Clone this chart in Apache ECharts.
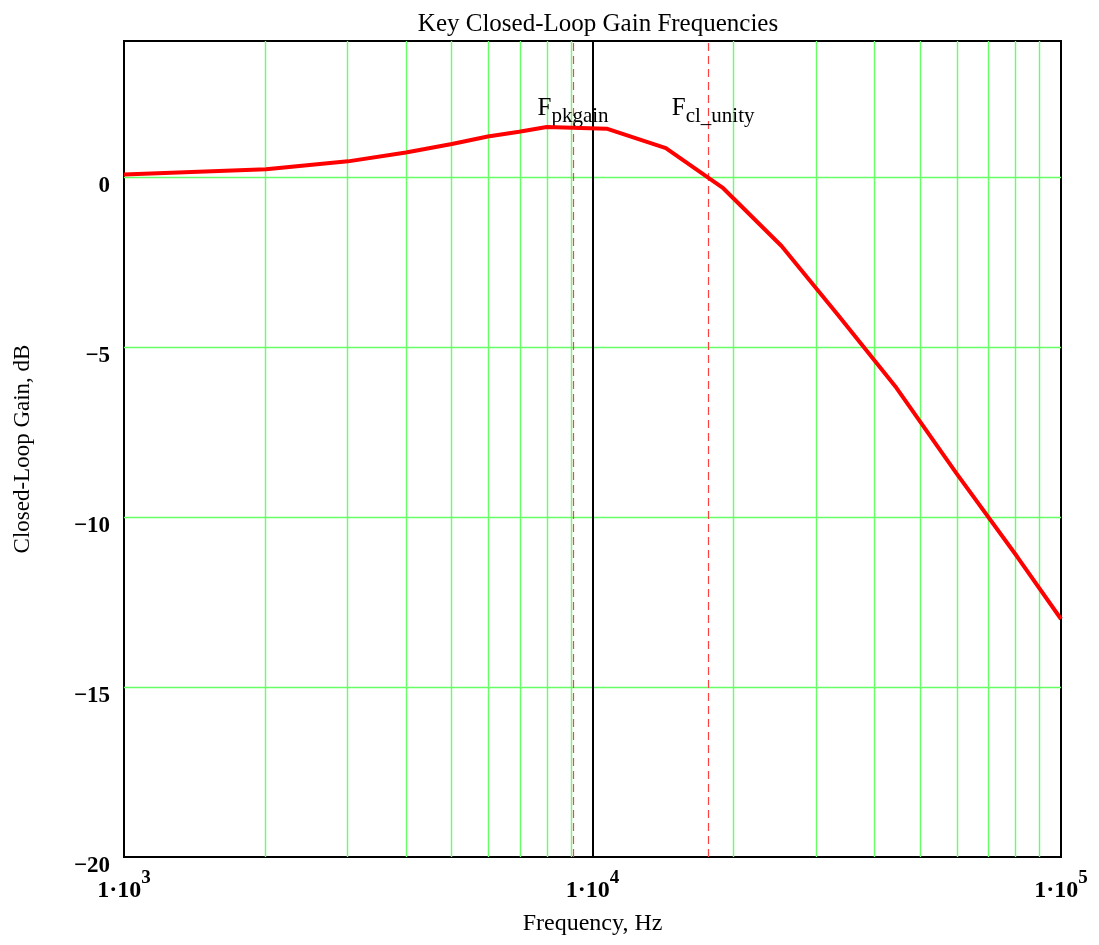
<!DOCTYPE html>
<html>
<head>
<meta charset="utf-8">
<title>Key Closed-Loop Gain Frequencies</title>
<script src="https://cdn.jsdelivr.net/npm/echarts@6/dist/echarts.min.js"></script>
<style>
  html, body { margin: 0; padding: 0; background: #ffffff; }
  #chart { width: 1099px; height: 945px; }
</style>
</head>
<body>
<div id="chart"></div>
<script>
// Closed-loop gain response (Hz, dB)
const freqHz = [1000, 2010, 3006, 3998, 5010, 5977, 6972, 7985, 10720, 14340, 19010, 25320, 33420, 44530, 59770, 80650, 100000];
const gainDb = [0.07, 0.23, 0.46, 0.72, 0.97, 1.19, 1.33, 1.47, 1.42, 0.85, -0.33, -2.03, -4.06, -6.20, -8.71, -11.17, -13.0];

// Key frequencies marked on the plot
const fPkGain = 9090;     // peak closed-loop gain
const fClUnity = 17650;   // closed-loop unity-gain crossing
const fRef = 10000;       // reference marker

// Axis ranges and tick labels
const yTicks = [-20, -15, -10, -5, 0];
const decadeStarts = [1000, 10000];
const gridMultipliers = [2, 3, 4, 5, 6, 7, 8, 9];

const minorGridFreqs = [];
decadeStarts.forEach(d => gridMultipliers.forEach(m => minorGridFreqs.push(d * m)));

const SERIF = '"Liberation Serif", "Times New Roman", serif';
const GREEN = '#66ff66';
const gridLine = { color: GREEN, width: 1.4, type: 'solid' };

const chart = echarts.init(document.getElementById('chart'), null, { renderer: 'canvas' });

const fmtNum = v => (v < 0 ? '\u2212' + Math.abs(v) : String(v));

chart.setOption({
  animation: false,
  backgroundColor: '#ffffff',
  title: {
    text: 'Key Closed-Loop Gain Frequencies',
    left: 593, top: 7, textAlign: 'center',
    textStyle: { fontFamily: SERIF, fontWeight: 'normal', fontSize: 25, color: '#000' }
  },
  grid: {
    left: 124, right: 38, top: 41, bottom: 88,
    show: true, borderColor: '#000', borderWidth: 2, backgroundColor: 'transparent'
  },
  xAxis: {
    type: 'log', logBase: 10, min: 1000, max: 100000,
    name: 'Frequency, Hz', nameLocation: 'middle', nameGap: 55,
    nameTextStyle: { fontFamily: SERIF, fontSize: 24, color: '#000' },
    axisLine: { show: false }, axisTick: { show: false },
    splitLine: { show: false }, minorTick: { show: false }, minorSplitLine: { show: false },
    axisLabel: {
      margin: 12, showMinLabel: true, showMaxLabel: true,
      formatter: v => '{m|1\u00b710}{s|' + Math.round(Math.log10(v)) + '}',
      rich: {
        m: { fontFamily: SERIF, fontWeight: 'bold', fontSize: 24, color: '#000', lineHeight: 34, verticalAlign: 'bottom' },
        s: { fontFamily: SERIF, fontWeight: 'bold', fontSize: 19, color: '#000', lineHeight: 34, verticalAlign: 'top' }
      }
    }
  },
  yAxis: {
    type: 'value', min: yTicks[0], max: 4, interval: 5,
    name: 'Closed-Loop Gain, dB', nameLocation: 'middle', nameRotate: 90, nameGap: 90,
    nameTextStyle: { fontFamily: SERIF, fontSize: 23, color: '#000' },
    axisLine: { show: false }, axisTick: { show: false },
    splitLine: { show: false },
    axisLabel: {
      margin: 14, showMaxLabel: false, verticalAlign: 'top', lineHeight: 18,
      fontFamily: SERIF, fontWeight: 'bold', fontSize: 23, color: '#000',
      formatter: v => (yTicks.indexOf(v) >= 0 ? fmtNum(v) : '')
    }
  },
  series: [
    {
      // grid lines: gain levels and 2..9 per frequency decade
      type: 'line', data: [], z: 1, silent: true,
      markLine: {
        silent: true, symbol: 'none', label: { show: false },
        lineStyle: gridLine,
        data: minorGridFreqs.map(f => ({ xAxis: f }))
          .concat(yTicks.filter(v => v > yTicks[0]).map(v => ({ yAxis: v })))
      }
    },
    {
      // reference and key-frequency markers
      type: 'line', data: [], z: 2, silent: true,
      markLine: {
        silent: true, symbol: 'none', label: { show: false },
        data: [
          { xAxis: fRef, lineStyle: { color: '#000', width: 2, type: 'solid' } },
          { xAxis: fPkGain, lineStyle: { color: '#ff4040', width: 1.2, type: [8, 5] } },
          { xAxis: fClUnity, lineStyle: { color: '#ff4040', width: 1.2, type: [8, 5] } }
        ]
      }
    },
    {
      name: 'Closed-loop gain',
      type: 'line', z: 5,
      data: freqHz.map((f, i) => [f, gainDb[i]]),
      showSymbol: false, smooth: false,
      lineStyle: { color: '#ff0000', width: 4 },
      markPoint: {
        symbol: 'circle', symbolSize: 0, silent: true,
        label: {
          show: true, position: 'inside',
          rich: {
            F: { fontFamily: SERIF, fontSize: 25, color: '#000', lineHeight: 31, verticalAlign: 'top' },
            sub: { fontFamily: SERIF, fontSize: 21, color: '#000', lineHeight: 31, verticalAlign: 'bottom' }
          }
        },
        data: [
          { coord: [fPkGain, 1.92], label: { formatter: '{F|F}{sub|pkgain}' } },
          { coord: [fClUnity, 1.92], label: { formatter: '{F|F}{sub|cl_unity}', offset: [5, 0] } }
        ]
      }
    }
  ]
});
</script>
</body>
</html>
